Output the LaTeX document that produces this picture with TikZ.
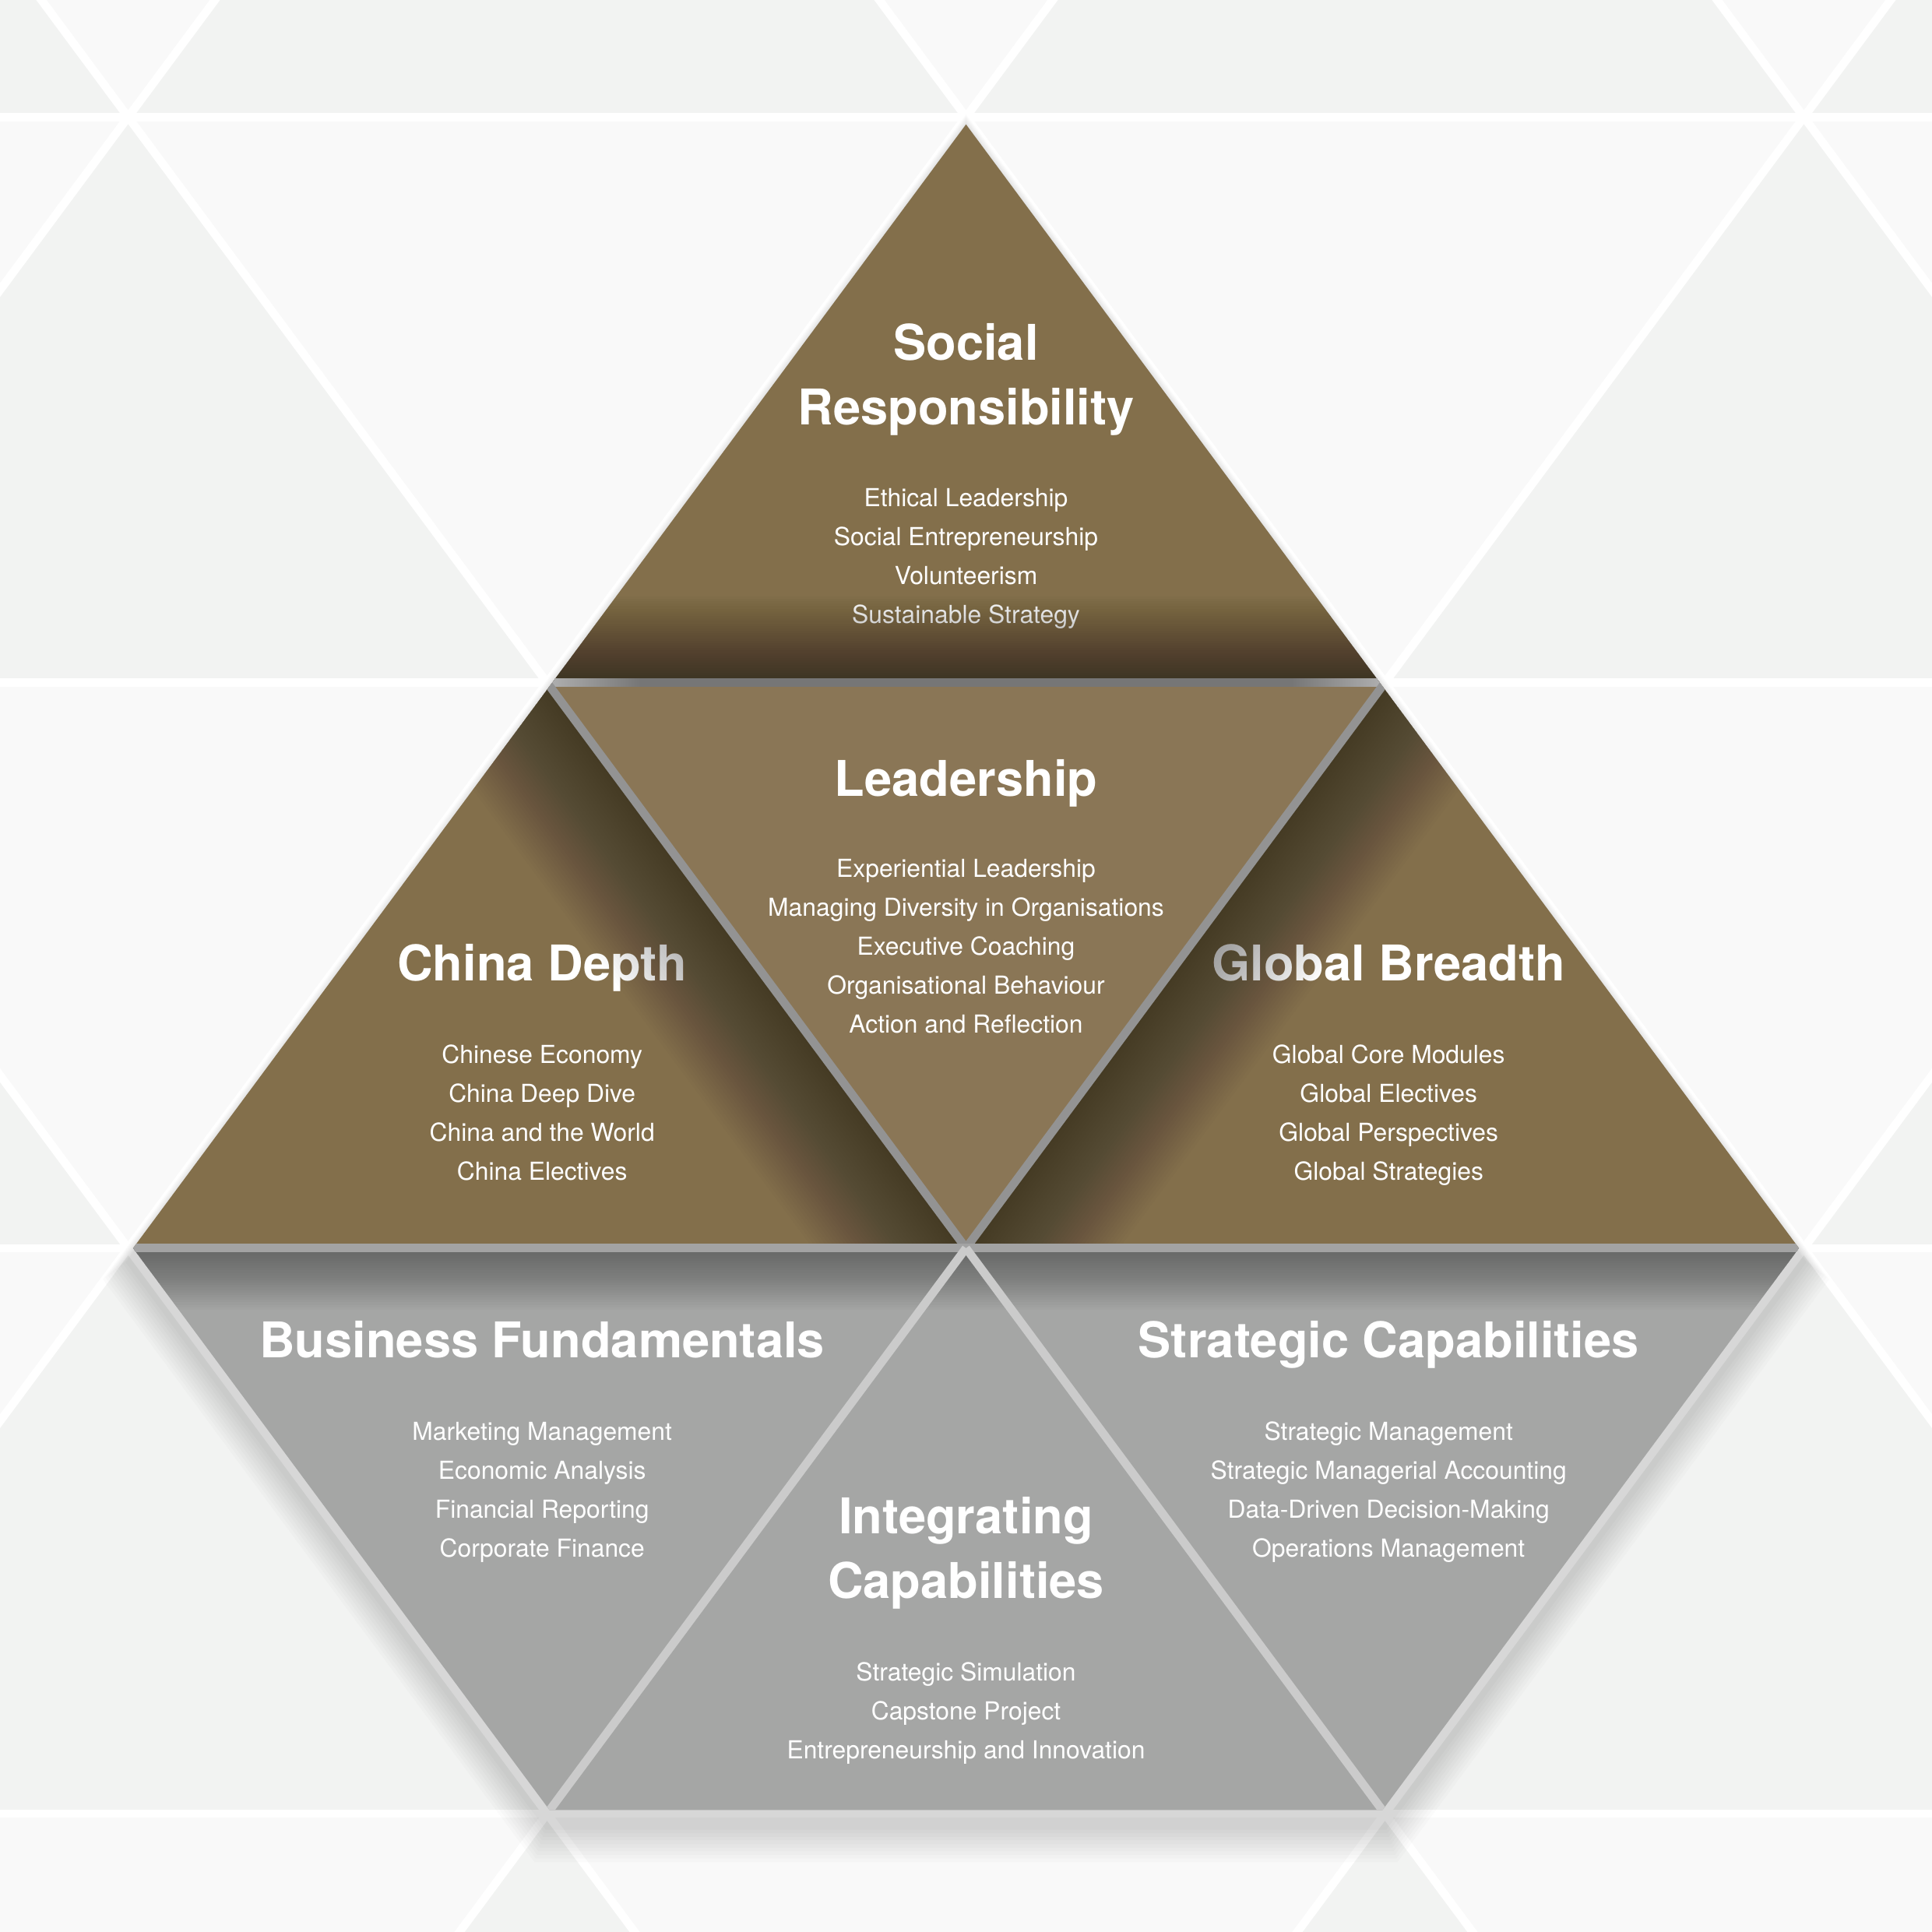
\documentclass[tikz,border=0pt]{standalone}
\usepackage{fontspec}
\setmainfont{TeX Gyre Heros}
\usepackage{xcolor}

\definecolor{tileDark}{HTML}{F2F3F2}
\definecolor{tileLight}{HTML}{F9F9F9}
\definecolor{goldBrown}{HTML}{836F4B}
\definecolor{leadBrown}{HTML}{8A7656}
\definecolor{rowGray}{HTML}{A5A6A5}
\definecolor{gapDark}{HTML}{767676}
\definecolor{gapMid}{HTML}{939393}
\definecolor{gapRow}{HTML}{A3A3A3}
\definecolor{gapLight}{HTML}{CBCBCB}
\definecolor{gapEnd}{HTML}{B4B4B4}

\tikzset{
  bgline/.style={white, line width=0.086cm},
  gapline/.style={line width=0.087cm},
  ttl/.style={text=white, anchor=base, inner sep=0pt, font=\fontsize{14.5}{19.2}\selectfont\bfseries},
  lst/.style={text=white, anchor=base, inner sep=0pt, font=\fontsize{7.3}{11.4}\selectfont},
  shd/.style={black, opacity=0.025}
}

\begin{document}
\begin{tikzpicture}[x=0.012755cm, y=-0.012755cm]
\useasboundingbox (0,0) rectangle (1568,1568);
\clip (0,0) rectangle (1568,1568);
% background tiles
\fill[tileLight] (0,0) rectangle (1568,1568);
\foreach \row/\off in {-364/444, 95/104, 554/444, 1013/104, 1472/444}
  \foreach \k in {-1,...,2}
    \fill[tileDark] ({\off+680*\k},\row) -- ++(-340,459) -- ++(680,0) -- cycle;
\foreach \y in {95,554,1013,1472}
  \draw[bgline] (-10,\y) -- (1580,\y);
\foreach \k in {-3,...,4} {
  \draw[bgline] ({104+680*\k-366.7},-400) -- ({104+680*\k+1411.1},2000);
  \draw[bgline] ({104+680*\k+366.7},-400) -- ({104+680*\k-1411.1},2000);
}
% soft shadow under the whole figure
\foreach \s [evaluate=\s as \fac using 1+0.003*\s] in {1,...,10}
  \fill[black, opacity=0.016, shift={(0,10)}, scale around={\fac:(784,500)}]
    (784,95) -- (104,1013) -- (444,1472) -- (1124,1472) -- (1464,1013) -- cycle;

\begin{scope}
\clip (784,101) -- (108,1013) -- (446,1469) -- (1122,1469) -- (1460,1013) -- cycle;
\fill[goldBrown] (784,95) -- (104,1013) -- (1464,1013) -- cycle;
\fill[leadBrown] (444,554) -- (1124,554) -- (784,1013) -- cycle;
\fill[rowGray] (104,1013) -- (1464,1013) -- (1124,1472) -- (444,1472) -- cycle;

% top
\node[ttl] (socialA) at (784,292) {Social};
\node[ttl] (socialB) at (784,345) {Responsibility};
\foreach \t [count=\i] in {Ethical Leadership, Social Entrepreneurship, Volunteerism, Sustainable Strategy}
  \node[lst] (social\i) at (784,{411+31.6*(\i-1)}) {\t};
% middle
\node[ttl] (lead) at (784,646) {Leadership};
\foreach \t [count=\i] in {Experiential Leadership, Managing Diversity in Organisations, Executive Coaching, Organisational Behaviour, Action and Reflection}
  \node[lst] (lead\i) at (784,{712+31.6*(\i-1)}) {\t};
\node[ttl] (china) at (440,796) {China Depth};
\foreach \t [count=\i] in {Chinese Economy, China Deep Dive, China and the World, China Electives}
  \node[lst] (china\i) at (440,{863+31.6*(\i-1)}) {\t};
\node[ttl] (global) at (1127,796) {Global Breadth};
\foreach \t [count=\i] in {Global Core Modules, Global Electives, Global Perspectives, Global Strategies}
  \node[lst] (global\i) at (1127,{863+31.6*(\i-1)}) {\t};
% bottom
\node[ttl] (business) at (440,1102) {Business Fundamentals};
\foreach \t [count=\i] in {Marketing Management, Economic Analysis, Financial Reporting, Corporate Finance}
  \node[lst] (business\i) at (440,{1169+31.6*(\i-1)}) {\t};
\node[ttl] (strategic) at (1127,1102) {Strategic Capabilities};
\foreach \t [count=\i] in {Strategic Management, Strategic Managerial Accounting, Data-Driven Decision-Making, Operations Management}
  \node[lst] (strategic\i) at (1127,{1169+31.6*(\i-1)}) {\t};
\node[ttl] (integA) at (784,1245) {Integrating};
\node[ttl] (integB) at (784,1297) {Capabilities};
\foreach \t [count=\i] in {Strategic Simulation, Capstone Project, Entrepreneurship and Innovation}
  \node[lst] (integ\i) at (784,{1364+31.6*(\i-1)}) {\t};

% inner shadows
\begin{scope}
  \clip (784,95) -- (444,554) -- (1124,554) -- cycle;
  \foreach \w in {2,4,...,70}
    \fill[shd, opacity=0.015] (400,{554-\w}) rectangle (1170,560);
\end{scope}
\begin{scope}
  \clip (104,1013) -- (1464,1013) -- (1124,1472) -- (444,1472) -- cycle;
  \foreach \w in {2,4,...,50}
    \fill[shd, opacity=0.016] (90,1005) rectangle (1480,{1013+\w});
\end{scope}
\begin{scope}
  \clip (444,554) -- (104,1013) -- (784,1013) -- cycle;
  \foreach \w in {2.5,5,...,100}
    \fill[shd, opacity=0.012] (400,495) -- (830,1075) -- ++({-0.8036*\w},{0.5952*\w}) -- ({400-0.8036*\w},{495+0.5952*\w}) -- cycle;
\end{scope}
\begin{scope}
  \clip (1124,554) -- (784,1013) -- (1464,1013) -- cycle;
  \foreach \w in {2.5,5,...,100}
    \fill[shd, opacity=0.012] (1168,495) -- (738,1075) -- ++({0.8036*\w},{0.5952*\w}) -- ({1168+0.8036*\w},{495+0.5952*\w}) -- cycle;
\end{scope}

% gaps between the pieces
\fill[gapDark] (430,550.6) rectangle (1138,557.4);
\shade[left color=gapEnd, right color=gapDark] (440,550.6) rectangle (520,557.4);
\shade[left color=gapDark, right color=gapEnd] (1048,550.6) rectangle (1128,557.4);
\draw[gapline, gapMid] (444,554) -- (784,1013);
\draw[gapline, gapMid] (1124,554) -- (784,1013);
\fill[gapRow] (90,1009.6) rectangle (1478,1016.4);
\draw[gapline, gapLight] (784,1013) -- (444,1472);
\draw[gapline, gapLight] (784,1013) -- (1124,1472);
\end{scope}
\end{tikzpicture}
\end{document}
